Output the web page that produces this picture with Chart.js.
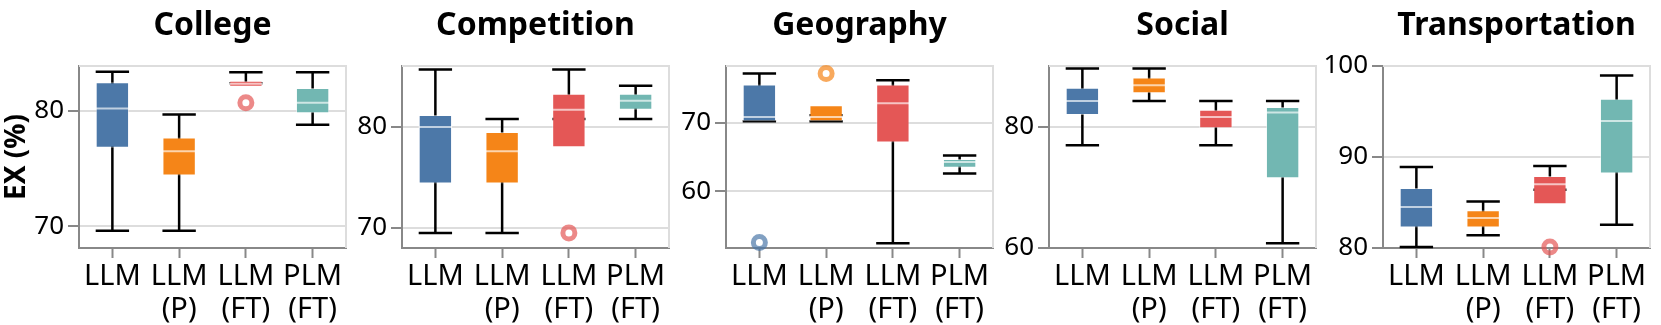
<!DOCTYPE html>
<html>
<head>
<meta charset="utf-8">
<script src="https://cdn.jsdelivr.net/npm/chart.js@4"></script>
<style>
  html, body { margin: 0; padding: 0; background: #fff; overflow: hidden; }
  #wrap { position: relative; width: 1661px; height: 325px; }
  #wrap canvas { position: absolute; top: 0; }
</style>
</head>
<body>
<div id="wrap"></div>
<script>
const panels = ['College', 'Competition', 'Geography', 'Social', 'Transportation'];
const categories = [['LLM'], ['LLM', '(P)'], ['LLM', '(FT)'], ['PLM', '(FT)']];
const colors = ['#4c78a8', '#f58518', '#e45756', '#72b7b2'];
const outlierColors = ['rgba(76,120,168,0.7)', 'rgba(245,133,24,0.7)', 'rgba(228,87,86,0.7)', 'rgba(114,183,178,0.7)'];

// y domains and ticks per panel
const yMin = [68.1, 68.0, 51.8, 60, 80];
const yMax = [83.9, 86.05, 78.2, 90.1, 100];
const yTicks = [[70, 80], [70, 80], [60, 70], [60, 80], [80, 90, 100]];

// box stats per panel, one value per category
const whiskLow = [
    [69.6, 69.6, 82.4, 78.8],
    [69.5, 69.5, 80.8, 80.8],
    [70.2, 70.2, 52.5, 62.6],
    [77.0, 84.3, 77.0, 60.8],
    [80.1, 81.4, 86.4, 82.55]
];
const q1 = [
    [76.8, 74.4, 82.1, 79.8],
    [74.4, 74.4, 78.0, 81.7],
    [70.2, 70.2, 67.1, 63.45],
    [82.0, 85.6, 79.8, 71.55],
    [82.25, 82.25, 84.8, 88.2]
];
const median = [
    [80.2, 76.5, 82.35, 80.7],
    [80.0, 77.6, 81.7, 82.6],
    [70.8, 70.8, 72.8, 64.26],
    [84.3, 86.9, 81.65, 82.4],
    [84.5, 83.3, 87.0, 93.95]
];
const q3 = [
    [82.5, 77.7, 82.63, 82.0],
    [81.2, 79.5, 83.3, 83.3],
    [75.5, 72.5, 75.5, 64.7],
    [86.5, 88.2, 82.85, 83.3],
    [86.6, 84.15, 87.9, 96.4]
];
const whiskHigh = [
    [83.4, 79.7, 83.35, 83.35],
    [85.7, 80.8, 85.7, 84.1],
    [77.1, 71.05, 76.15, 65.2],
    [89.7, 89.7, 84.3, 84.3],
    [88.9, 85.1, 89.0, 98.95]
];
const outliers = [
    [null, null, 80.7, null],
    [null, null, 69.5, null],
    [52.6, 77.1, null, null],
    [null, null, null, null],
    [null, null, 80.1, null]
];

const plotLeft = [79, 402, 726, 1049, 1383];
const plotWidth = 276;
const axisWidth = 79;
const rightPad = 2;

// whiskers, caps, medians and the light frame
const boxParts = {
    id: 'boxParts',
    beforeDatasetsDraw(chart) {
        const { ctx, chartArea: a, scales: { x, y } } = chart;
        const p = chart.options.plugins.boxParts.panel;
        ctx.save();
        ctx.strokeStyle = '#ddd';
        ctx.lineWidth = 2;
        ctx.beginPath();
        ctx.moveTo(a.left, a.top);
        ctx.lineTo(a.right, a.top);
        ctx.lineTo(a.right, a.bottom);
        ctx.stroke();

        ctx.strokeStyle = '#000';
        ctx.lineWidth = 2.5;
        chart.getDatasetMeta(0).data.forEach((bar, i) => {
            const cx = x.getPixelForValue(i);
            const hw = bar.width / 2;
            const lo = y.getPixelForValue(whiskLow[p][i]);
            const hi = y.getPixelForValue(whiskHigh[p][i]);
            ctx.beginPath();
            ctx.moveTo(cx, lo); ctx.lineTo(cx, hi);
            ctx.moveTo(cx - hw, lo); ctx.lineTo(cx + hw, lo);
            ctx.moveTo(cx - hw, hi); ctx.lineTo(cx + hw, hi);
            ctx.stroke();
        });
        ctx.restore();
    },
    afterDatasetDraw(chart, args) {
        if (args.index !== 0) return;
        const { ctx, scales: { y } } = chart;
        const p = chart.options.plugins.boxParts.panel;
        ctx.save();
        ctx.strokeStyle = 'rgba(255,255,255,0.65)';
        ctx.lineWidth = 2;
        args.meta.data.forEach((bar, i) => {
            const my = y.getPixelForValue(median[p][i]);
            ctx.beginPath();
            ctx.moveTo(bar.x - bar.width / 2, my);
            ctx.lineTo(bar.x + bar.width / 2, my);
            ctx.stroke();
        });
        ctx.restore();
    }
};

Chart.defaults.font.family = "'Noto Sans', sans-serif";
Chart.defaults.color = '#000';

const wrap = document.getElementById('wrap');
panels.forEach((name, p) => {
    const canvas = document.createElement('canvas');
    const w = axisWidth + plotWidth + rightPad;
    canvas.width = w;
    canvas.height = 325;
    canvas.style.left = (plotLeft[p] - axisWidth) + 'px';
    canvas.style.width = w + 'px';
    canvas.style.height = '325px';
    wrap.appendChild(canvas);

    new Chart(canvas.getContext('2d'), {
        type: 'bar',
        data: {
            labels: categories,
            datasets: [
                {
                    data: categories.map((_, i) => [q1[p][i], q3[p][i]]),
                    backgroundColor: colors,
                    borderColor: 'rgba(255,255,255,0.5)',
                    borderWidth: 1,
                    borderSkipped: false,
                    barPercentage: 0.5,
                    categoryPercentage: 1
                },
                {
                    type: 'line',
                    data: outliers[p],
                    showLine: false,
                    clip: false,
                    pointRadius: 6,
                    pointBorderWidth: 5,
                    pointBackgroundColor: 'rgba(0,0,0,0)',
                    pointBorderColor: outlierColors
                }
            ]
        },
        options: {
            responsive: false,
            animation: false,
            layout: { padding: { left: 0, right: rightPad, top: 0, bottom: 0 } },
            plugins: {
                legend: { display: false },
                tooltip: { enabled: false },
                title: {
                    display: true,
                    fullSize: false,
                    text: name,
                    font: { size: 32, weight: 'bold' },
                    padding: { top: 7, bottom: 20.6 }
                },
                boxParts: { panel: p }
            },
            scales: {
                x: {
                    offset: true,
                    grid: { drawOnChartArea: false, offset: false, tickLength: 10, tickWidth: 2, tickColor: '#888' },
                    border: { color: '#888', width: 2 },
                    ticks: { font: { size: 29, lineHeight: 1.15 }, padding: 2, maxRotation: 0, autoSkip: false },
                    afterFit: s => { s.height = 77; }
                },
                y: {
                    min: yMin[p],
                    max: yMax[p],
                    afterBuildTicks: s => { s.ticks = yTicks[p].map(v => ({ value: v })); },
                    grid: {
                        color: c => (c.tick && c.tick.value === yMin[p]) ? 'rgba(0,0,0,0)' : '#ddd',
                        lineWidth: 2,
                        tickLength: 11,
                        tickWidth: 2,
                        tickColor: '#888'
                    },
                    border: { color: '#888', width: 2 },
                    ticks: { font: { size: 26 }, padding: 4 },
                    title: {
                        display: p === 0,
                        text: 'EX (%)',
                        font: { size: 28, weight: 'bold' },
                        padding: { top: 0, bottom: 0 }
                    },
                    afterFit: s => { s.width = axisWidth; }
                }
            }
        },
        plugins: [boxParts]
    });
});
</script>
</body>
</html>
